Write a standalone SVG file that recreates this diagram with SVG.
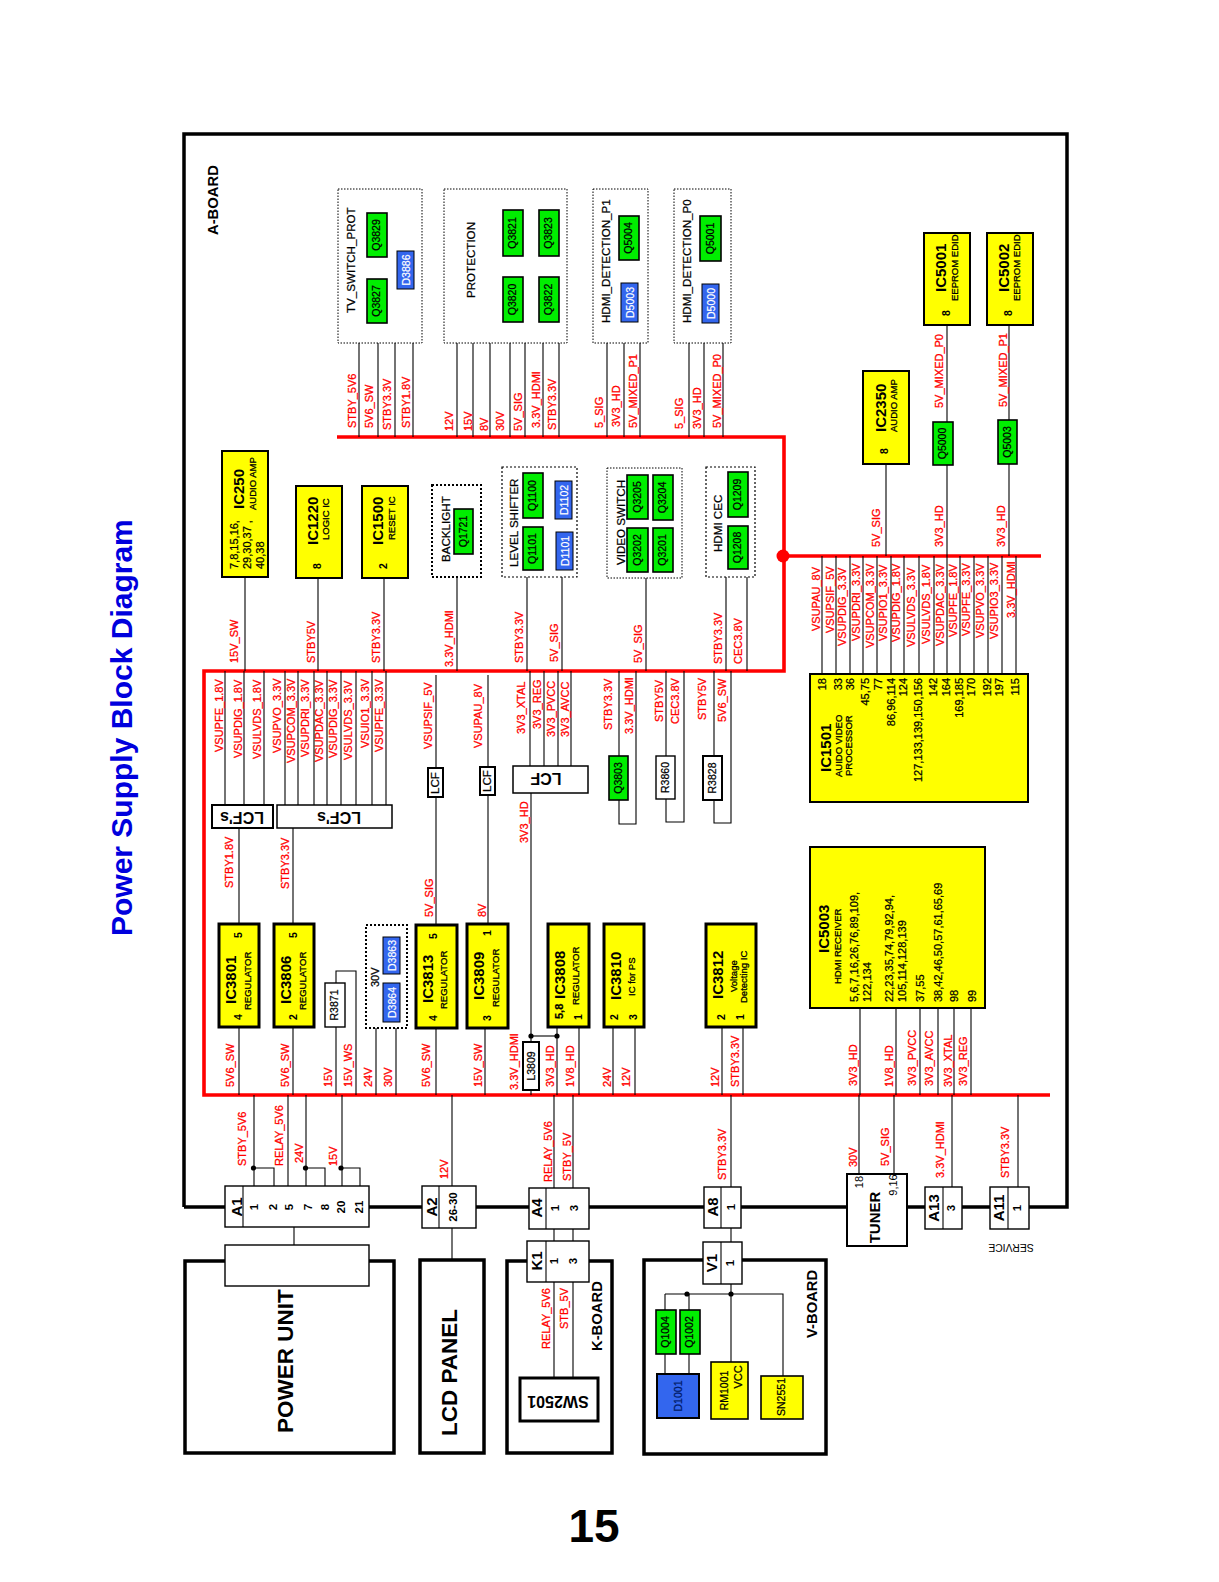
<svg xmlns="http://www.w3.org/2000/svg" width="1219" height="1582" viewBox="0 0 1219 1582">
<style>
text{font-family:"Liberation Sans",Arial,sans-serif;fill:#000}
.l{font-size:11px;fill:#f00;stroke:#f00;stroke-width:.3}
.m{text-anchor:middle}
.e{text-anchor:end}
.q{font-size:10.5px;text-anchor:middle;stroke:#000;stroke-width:.25}
.d{font-size:10.5px;text-anchor:middle;fill:#fff;stroke:#fff;stroke-width:.2}
.ic{font-size:15px;font-weight:bold}
.s{font-size:9.5px;stroke:#000;stroke-width:.3}
.b{font-size:11.6px;stroke:#000;stroke-width:.25}
.p{font-size:10.5px;font-weight:bold;text-anchor:middle}
.n{font-size:11px;stroke:#000;stroke-width:.25}
.c{font-size:15px;font-weight:bold;text-anchor:middle}
.w{font-size:11.5px;font-weight:bold;text-anchor:middle}
.big{font-size:22.5px;font-weight:bold}
.bd{font-size:14.8px;font-weight:bold}
.gr{fill:#00ee00;stroke:#000;stroke-width:1.6}
.bl{fill:#3366ee;stroke:#000;stroke-width:1}
.y{fill:#ff0;stroke:#000;stroke-width:2}
.y3{fill:#ff0;stroke:#000;stroke-width:3}
.dot{fill:#fff;stroke:#000;stroke-width:1;stroke-dasharray:1.5 1.5}
.dot2{fill:#fff;stroke:#000;stroke-width:2;stroke-dasharray:2 2}
.wb{fill:#fff;stroke:#000;stroke-width:1.4}
.wb2{fill:#fff;stroke:#000;stroke-width:2}
.fr{fill:none;stroke:#000;stroke-width:3.5}
.w1{fill:none;stroke:#000;stroke-width:1.1}
.bus{fill:none;stroke:#f00;stroke-width:3.6}
</style>
<text transform="translate(131.500 936)rotate(-90)" style="font-size:30px;font-weight:bold;fill:#0000dd">Power Supply Block Diagram</text>
<text x="594" y="1542" class="m" style="font-size:46px;font-weight:bold">15</text>
<g id="a-board"><path class="fr" d="M184 1207V134H1067V1207H184"/><text class="bd" transform="translate(218 235)rotate(-90)">A-BOARD</text></g>
<g id="bus"><path class="bus" d="M337 437H784V671H204V1095H1050"/><path class="bus" d="M784 556H1041"/><circle cx="783" cy="556" r="6.5" fill="#f00"/></g>
<g id="power-unit"><rect class="fr" x="185" y="1261" width="209" height="192"/><text class="big" transform="translate(293 1433)rotate(-90)">POWER UNIT</text><rect class="wb" x="225" y="1245" width="144" height="41"/></g>
<g id="lcd-panel"><rect class="fr" x="420" y="1260" width="64" height="193"/><text class="big" transform="translate(457 1436)rotate(-90)">LCD PANEL</text></g>
<g id="k-board"><rect class="fr" x="507" y="1261" width="105" height="192"/><text class="bd" transform="translate(602 1351)rotate(-90)">K-BOARD</text></g>
<g id="v-board"><rect class="fr" x="644" y="1260" width="182" height="194"/><text class="bd" transform="translate(817 1338)rotate(-90)">V-BOARD</text></g>
<g id="connectors">
<path class="w1" d="M359 343V437"/><path class="w1" d="M378 343V437"/><path class="w1" d="M395 343V437"/><path class="w1" d="M413 343V437"/>
<path class="w1" d="M457 343V437"/><path class="w1" d="M473 343V437"/><path class="w1" d="M490 343V437"/><path class="w1" d="M510 343V437"/><path class="w1" d="M525 343V437"/><path class="w1" d="M543 343V437"/><path class="w1" d="M559 343V437"/>
<path class="w1" d="M607 343V437"/><path class="w1" d="M624 343V437"/><path class="w1" d="M640 343V437"/><path class="w1" d="M689 343V437"/><path class="w1" d="M704 343V437"/><path class="w1" d="M723 343V437"/>
<path class="w1" d="M886 464V556"/><path class="w1" d="M947 325V422"/><path class="w1" d="M947 465V556"/><path class="w1" d="M1009 325V420"/><path class="w1" d="M1009 464V556"/>
<path class="w1" d="M245 577V671"/><path class="w1" d="M318 578V671"/><path class="w1" d="M384 578V671"/><path class="w1" d="M457 577V671"/><path class="w1" d="M527 577V671"/><path class="w1" d="M562 577V671"/><path class="w1" d="M646 578V671"/><path class="w1" d="M726 577V671"/><path class="w1" d="M747 577V671"/>
<path class="w1" d="M822 556V674"/><path class="w1" d="M836 556V674"/><path class="w1" d="M850 556V674"/><path class="w1" d="M863 556V674"/><path class="w1" d="M877 556V674"/><path class="w1" d="M891 556V674"/><path class="w1" d="M904 556V674"/><path class="w1" d="M919 556V674"/><path class="w1" d="M934 556V674"/><path class="w1" d="M947 556V674"/><path class="w1" d="M960 556V674"/><path class="w1" d="M974 556V674"/><path class="w1" d="M988 556V674"/><path class="w1" d="M1002 556V674"/><path class="w1" d="M1016 556V674"/>
<path class="w1" d="M225 671V805"/><path class="w1" d="M244 671V805"/><path class="w1" d="M264 671V805"/><path class="w1" d="M285 671V805"/><path class="w1" d="M298 671V805"/><path class="w1" d="M314 671V805"/><path class="w1" d="M327 671V805"/><path class="w1" d="M341 671V805"/><path class="w1" d="M356 671V805"/><path class="w1" d="M372 671V805"/><path class="w1" d="M386 671V805"/>
<path class="w1" d="M239 828V924"/><path class="w1" d="M293 828V924"/>
<path class="w1" d="M436 675V925"/><path class="w1" d="M488 675V924"/>
<path class="w1" d="M530 671V766"/><path class="w1" d="M544 671V766"/><path class="w1" d="M558 671V766"/><path class="w1" d="M571 671V766"/>
<path class="w1" d="M531 793V1095"/><path class="w1" d="M557 1027V1095"/><path class="w1" d="M531 1036H557"/>
<circle cx="531" cy="1036" r="2.6"/><circle cx="557" cy="1036" r="2.6"/>
<path class="w1" d="M619 671V824H636V671"/><path class="w1" d="M666 671V822H684V671"/><path class="w1" d="M714 671V823H731V671"/>
<path class="w1" d="M239 1027V1095"/><path class="w1" d="M293 1027V1095"/><path class="w1" d="M336 1095V971H356V1095"/><path class="w1" d="M376 1028V1095"/><path class="w1" d="M396 1028V1095"/><path class="w1" d="M436 1028V1095"/><path class="w1" d="M485 1028V1095"/><path class="w1" d="M579 1027V1095"/><path class="w1" d="M613 1027V1095"/><path class="w1" d="M635 1027V1095"/><path class="w1" d="M722 1027V1095"/><path class="w1" d="M743 1027V1095"/>
<path class="w1" d="M860 1008V1095"/><path class="w1" d="M896 1008V1095"/><path class="w1" d="M920 1008V1095"/><path class="w1" d="M938 1008V1095"/><path class="w1" d="M954 1008V1095"/><path class="w1" d="M971 1008V1095"/>
<path class="w1" d="M254 1095V1187"/><path class="w1" d="M253 1168H274V1187"/><path class="w1" d="M288 1095V1187"/><path class="w1" d="M306 1095V1187"/><path class="w1" d="M306 1168H325V1187"/><path class="w1" d="M342 1095V1187"/><path class="w1" d="M342 1168H360V1187"/>
<circle cx="253.500" cy="1168" r="2.6"/><circle cx="305.500" cy="1168" r="2.6"/><circle cx="341" cy="1168" r="2.6"/>
<path class="w1" d="M452 1095V1260"/><path class="w1" d="M554 1095V1378"/><path class="w1" d="M573 1095V1378"/><path class="w1" d="M731 1095V1362"/><path class="w1" d="M859 1095V1174"/><path class="w1" d="M894 1095V1174"/><path class="w1" d="M952 1095V1187"/><path class="w1" d="M1018 1095V1187"/>
<path class="w1" d="M294 1227V1245"/>
<path class="w1" d="M665 1294H783V1376"/><path class="w1" d="M665 1294V1374"/><path class="w1" d="M689 1294V1374"/>
<circle cx="687" cy="1294" r="2.6"/><circle cx="731" cy="1294" r="2.6"/>
</g>
<g id="tv-switch-prot"><rect class="dot" x="338" y="189" width="84" height="154"/><text class="b" transform="translate(355 313)rotate(-90)">TV_SWITCH_PROT</text><rect class="gr" x="367" y="279" width="20" height="44"/><text class="q" transform="translate(380 301)rotate(-90)">Q3827</text><rect class="gr" x="367" y="213" width="20" height="44"/><text class="q" transform="translate(380 235)rotate(-90)">Q3829</text><rect class="bl" x="397" y="251" width="17" height="38"/><text class="d" transform="translate(410 270)rotate(-90)">D3886</text></g>
<g id="protection"><rect class="dot" x="444" y="189" width="123" height="154"/><text class="b" transform="translate(475 298)rotate(-90)">PROTECTION</text><rect class="gr" x="503" y="277" width="20" height="45"/><text class="q" transform="translate(516 299.500)rotate(-90)">Q3820</text><rect class="gr" x="503" y="210" width="20" height="46"/><text class="q" transform="translate(516 233)rotate(-90)">Q3821</text><rect class="gr" x="539" y="277" width="20" height="45"/><text class="q" transform="translate(552 299.500)rotate(-90)">Q3822</text><rect class="gr" x="539" y="210" width="20" height="46"/><text class="q" transform="translate(552 233)rotate(-90)">Q3823</text></g>
<g id="hdmi-detection-p1"><rect class="dot" x="593" y="189" width="55" height="154"/><text class="b" transform="translate(610 323)rotate(-90)">HDMI_DETECTION_P1</text><rect class="gr" x="619" y="216" width="20" height="44"/><text class="q" transform="translate(632 238)rotate(-90)">Q5004</text><rect class="bl" x="621" y="283" width="17" height="39"/><text class="d" transform="translate(634 302.500)rotate(-90)">D5003</text></g>
<g id="hdmi-detection-p0"><rect class="dot" x="674" y="189" width="57" height="154"/><text class="b" transform="translate(691 323)rotate(-90)">HDMI_DETECTION_P0</text><rect class="gr" x="700" y="216" width="21" height="45"/><text class="q" transform="translate(714 238.500)rotate(-90)">Q5001</text><rect class="bl" x="702" y="284" width="17" height="39"/><text class="d" transform="translate(715 303.500)rotate(-90)">D5000</text></g>
<g id="ic5001"><rect class="y" x="924" y="233" width="46" height="92"/><text class="ic" transform="translate(946 292)rotate(-90)">IC5001</text><text class="s" transform="translate(958 301)rotate(-90)">EEPROM EDID</text><text class="p" transform="translate(950 313)rotate(-90)">8</text></g>
<g id="ic5002"><rect class="y" x="987" y="233" width="46" height="92"/><text class="ic" transform="translate(1009 292)rotate(-90)">IC5002</text><text class="s" transform="translate(1020 301)rotate(-90)">EEPROM EDID</text><text class="p" transform="translate(1012 313)rotate(-90)">8</text></g>
<g id="ic2350"><rect class="y" x="863" y="371" width="46" height="93"/><text class="ic" transform="translate(886 432)rotate(-90)">IC2350</text><text class="s" transform="translate(897 432)rotate(-90)">AUDIO AMP</text><text class="p" transform="translate(888 451)rotate(-90)">8</text></g>
<g id="q5000"><rect class="gr" x="933" y="422" width="20" height="43"/><text class="q" transform="translate(946 443.500)rotate(-90)">Q5000</text></g>
<g id="q5003"><rect class="gr" x="998" y="420" width="19" height="44"/><text class="q" transform="translate(1011 442)rotate(-90)">Q5003</text></g>
<g id="ic250"><rect class="y" x="222" y="451" width="46" height="126"/><text class="ic" transform="translate(244 509)rotate(-90)">IC250</text><text class="s" transform="translate(256 510)rotate(-90)">AUDIO AMP</text><text class="n" transform="translate(238 569)rotate(-90)">7,8,15,16,</text><text class="n" transform="translate(251 569)rotate(-90)">29,30,37 ,</text><text class="n" transform="translate(264 569)rotate(-90)">40,38</text></g>
<g id="ic1220"><rect class="y" x="296" y="486" width="46" height="92"/><text class="ic" transform="translate(318 545)rotate(-90)">IC1220</text><text class="s" transform="translate(329 540)rotate(-90)">LOGIC IC</text><text class="p" transform="translate(321 566)rotate(-90)">8</text></g>
<g id="ic1500"><rect class="y" x="362" y="486" width="46" height="92"/><text class="ic" transform="translate(383 545)rotate(-90)">IC1500</text><text class="s" transform="translate(395 540)rotate(-90)">RESET IC</text><text class="p" transform="translate(387 566)rotate(-90)">2</text></g>
<g id="backlight"><rect class="dot2" x="432" y="485" width="49" height="92"/><text class="b" transform="translate(450 562)rotate(-90)">BACKLIGHT</text><rect class="gr" x="454" y="509" width="19" height="45"/><text class="q" transform="translate(467 531.500)rotate(-90)">Q1721</text></g>
<g id="level-shifter"><rect class="dot2" x="502" y="467" width="75" height="110" style="stroke-width:1.2"/><text class="b" transform="translate(518 567)rotate(-90)">LEVEL SHIFTER</text><rect class="gr" x="523" y="473" width="20" height="45"/><text class="q" transform="translate(536 495.500)rotate(-90)">Q1100</text><rect class="gr" x="523" y="527" width="20" height="43"/><text class="q" transform="translate(536 548.500)rotate(-90)">Q1101</text><rect class="bl" x="555" y="481" width="17" height="38"/><text class="d" transform="translate(568 500)rotate(-90)">D1102</text><rect class="bl" x="556" y="532" width="17" height="38"/><text class="d" transform="translate(569 551)rotate(-90)">D1101</text></g>
<g id="video-switch"><rect class="dot" x="607" y="468" width="75" height="110"/><text class="b" transform="translate(625 565)rotate(-90)">VIDEO SWITCH</text><rect class="gr" x="627" y="475" width="21" height="44"/><text class="q" transform="translate(641 497)rotate(-90)">Q3205</text><rect class="gr" x="653" y="475" width="20" height="45"/><text class="q" transform="translate(666 497.500)rotate(-90)">Q3204</text><rect class="gr" x="627" y="528" width="21" height="44"/><text class="q" transform="translate(641 550)rotate(-90)">Q3202</text><rect class="gr" x="653" y="528" width="20" height="44"/><text class="q" transform="translate(666 550)rotate(-90)">Q3201</text></g>
<g id="hdmi-cec"><rect class="dot2" x="706" y="467" width="49" height="110" style="stroke-width:1.2"/><text class="b" transform="translate(722 552)rotate(-90)">HDMI CEC</text><rect class="gr" x="728" y="472" width="20" height="45"/><text class="q" transform="translate(741 494.500)rotate(-90)">Q1209</text><rect class="gr" x="728" y="526" width="20" height="43"/><text class="q" transform="translate(741 547.500)rotate(-90)">Q1208</text></g>
<g id="ic1501"><rect class="y" x="810" y="674" width="218" height="128"/><text class="ic" transform="translate(831 772)rotate(-90)">IC1501</text><text class="s" transform="translate(842 777)rotate(-90)">AUIDO VIDEO</text><text class="s" transform="translate(852 776)rotate(-90)">PROCESSOR</text>
<text class="n e" transform="translate(826 678)rotate(-90)">18</text><text class="n e" transform="translate(842 678)rotate(-90)">33</text><text class="n e" transform="translate(854 678)rotate(-90)">36</text><text class="n e" transform="translate(869 678)rotate(-90)">45,75</text><text class="n e" transform="translate(882 678)rotate(-90)">77</text><text class="n e" transform="translate(895 678)rotate(-90)">86,96,114</text><text class="n e" transform="translate(907 678)rotate(-90)">124</text><text class="n e" transform="translate(922 678)rotate(-90)">127,133,139,150,156</text><text class="n e" transform="translate(937 678)rotate(-90)">142</text><text class="n e" transform="translate(950 678)rotate(-90)">164</text><text class="n e" transform="translate(963 678)rotate(-90)">169,185</text><text class="n e" transform="translate(975 678)rotate(-90)">170</text><text class="n e" transform="translate(991 678)rotate(-90)">192</text><text class="n e" transform="translate(1003 678)rotate(-90)">197</text><text class="n e" transform="translate(1019 678)rotate(-90)">115</text></g>
<g id="ic5003"><rect class="y" x="810" y="847" width="175" height="161"/><text class="ic" transform="translate(829 953)rotate(-90)">IC5003</text><text class="s" transform="translate(841 984)rotate(-90)">HDMI RECEIVER</text>
<text class="n" transform="translate(858 1002)rotate(-90)">5,6,7,16,26,76,89,109,</text><text class="n" transform="translate(871 1002)rotate(-90)">122,134</text><text class="n" transform="translate(893 1002)rotate(-90)">22,23,35,74,79,92,94,</text><text class="n" transform="translate(906 1002)rotate(-90)">105,114,128,139</text><text class="n" transform="translate(924 1002)rotate(-90)">37,55</text><text class="n" transform="translate(942 1002)rotate(-90)">38,42,46,50,57,61,65,69</text><text class="n" transform="translate(958 1002)rotate(-90)">98</text><text class="n" transform="translate(976 1002)rotate(-90)">99</text></g>
<g id="lcf-1"><rect class="wb2" x="212" y="805" width="61" height="23"/><text class="m" transform="translate(242 812)rotate(180)" style="font-size:16px;font-weight:bold">LCF's</text></g>
<g id="lcf-2"><rect class="wb2" x="277" y="805" width="115" height="23" style="stroke-width:1.5"/><text class="m" transform="translate(339 812)rotate(180)" style="font-size:16px;font-weight:bold">LCF's</text></g>
<g id="lcf-3"><rect class="wb2" x="428" y="768" width="15" height="29"/><text class="b m" transform="translate(439 783)rotate(-90)">LCF</text></g>
<g id="lcf-4"><rect class="wb2" x="480" y="767" width="15" height="28"/><text class="b m" transform="translate(491 781)rotate(-90)">LCF</text></g>
<g id="lcf-5"><rect class="wb2" x="513" y="766" width="75" height="27" style="stroke-width:1.5"/><text class="m" transform="translate(546 773)rotate(180)" style="font-size:16px;font-weight:bold">LCF</text></g>
<g id="q3803"><rect class="gr" x="609" y="756" width="19" height="44"/><text class="q" transform="translate(622 778)rotate(-90)">Q3803</text></g>
<g id="r3860"><rect class="wb" x="656" y="756" width="19" height="43"/><text class="q" transform="translate(669 777.500)rotate(-90)">R3860</text></g>
<g id="r3828"><rect class="wb2" x="703" y="756" width="19" height="44"/><text class="q" transform="translate(716 778)rotate(-90)">R3828</text></g>
<g id="ic3801"><rect class="y3" x="219" y="924" width="40" height="103"/><text class="ic" transform="translate(236 1004)rotate(-90)">IC3801</text><text class="s" transform="translate(251 1010)rotate(-90)">REGULATOR</text><text class="p" transform="translate(242 1017)rotate(-90)">4</text><text class="p" transform="translate(242 935)rotate(-90)">5</text></g>
<g id="ic3806"><rect class="y3" x="274" y="924" width="40" height="103"/><text class="ic" transform="translate(291 1004)rotate(-90)">IC3806</text><text class="s" transform="translate(306 1010)rotate(-90)">REGULATOR</text><text class="p" transform="translate(297 1017)rotate(-90)">2</text><text class="p" transform="translate(297 935)rotate(-90)">5</text></g>
<g id="r3871"><rect class="wb" x="325" y="983" width="20" height="44"/><text class="q" transform="translate(338 1005)rotate(-90)">R3871</text></g>
<g id="d-30v"><rect class="dot2" x="366" y="925" width="41" height="103"/><text class="n" transform="translate(379 987)rotate(-90)">30V</text><rect class="bl" x="383" y="937" width="17" height="37"/><text class="d" transform="translate(396 955.500)rotate(-90)">D3863</text><rect class="bl" x="383" y="983" width="17" height="39"/><text class="d" transform="translate(396 1002.500)rotate(-90)">D3864</text></g>
<g id="ic3813"><rect class="y3" x="416" y="925" width="41" height="103"/><text class="ic" transform="translate(433 1003)rotate(-90)">IC3813</text><text class="s" transform="translate(447 1009)rotate(-90)">REGULATOR</text><text class="p" transform="translate(437 1018)rotate(-90)">4</text><text class="p" transform="translate(437 936)rotate(-90)">5</text></g>
<g id="ic3809"><rect class="y3" x="467" y="924" width="41" height="104"/><text class="ic" transform="translate(484 1000)rotate(-90)">IC3809</text><text class="s" transform="translate(499 1007)rotate(-90)">REGULATOR</text><text class="p" transform="translate(491 1018)rotate(-90)">3</text><text class="p" transform="translate(491 933)rotate(-90)">1</text></g>
<g id="ic3808"><rect class="y3" x="548" y="924" width="41" height="103"/><text class="ic" transform="translate(565 999)rotate(-90)">IC3808</text><text class="n" transform="translate(563 1019)rotate(-90)" style="font-weight:bold">5,8</text><text class="s" transform="translate(579 1005)rotate(-90)">REGULATOR</text><text class="p" transform="translate(582 1017)rotate(-90)">1</text></g>
<g id="ic3810"><rect class="y3" x="604" y="924" width="40" height="103"/><text class="ic" transform="translate(621 1000)rotate(-90)">IC3810</text><text class="s" transform="translate(635 996)rotate(-90)">IC for PS</text><text class="p" transform="translate(618 1017)rotate(-90)">2</text><text class="p" transform="translate(637 1017)rotate(-90)">3</text></g>
<g id="ic3812"><rect class="y3" x="706" y="924" width="50" height="103"/><text class="ic" transform="translate(723 999)rotate(-90)">IC3812</text><text class="s" transform="translate(737 992)rotate(-90)">Voltage</text><text class="s" transform="translate(747 1003)rotate(-90)">Detecting IC</text><text class="p" transform="translate(725 1017)rotate(-90)">2</text><text class="p" transform="translate(744 1017)rotate(-90)">1</text></g>
<g id="l3809"><rect class="wb2" x="523" y="1042" width="16" height="48"/><text class="q" transform="translate(535 1066)rotate(-90)">L3809</text></g>
<g id="a1"><rect class="wb" x="225" y="1186" width="144" height="41"/><path class="w1" d="M243 1186V1227"/><text class="c" transform="translate(242 1207)rotate(-90)">A1</text><text class="w" transform="translate(258 1207)rotate(-90)">1</text><text class="w" transform="translate(277 1207)rotate(-90)">2</text><text class="w" transform="translate(293 1207)rotate(-90)">5</text><text class="w" transform="translate(312 1207)rotate(-90)">7</text><text class="w" transform="translate(329 1207)rotate(-90)">8</text><text class="w" transform="translate(345 1207)rotate(-90)">20</text><text class="w" transform="translate(363 1207)rotate(-90)">21</text></g>
<g id="a2"><rect class="wb" x="422" y="1186" width="54" height="42"/><path class="w1" d="M439 1186V1228"/><text class="c" transform="translate(437 1207)rotate(-90)">A2</text><text class="w" transform="translate(457 1207)rotate(-90)">26-30</text></g>
<g id="a4"><rect class="wb" x="529" y="1188" width="60" height="41"/><path class="w1" d="M546 1188V1229"/><text class="c" transform="translate(542 1208)rotate(-90)">A4</text><text class="w" transform="translate(559 1208)rotate(-90)">1</text><text class="w" transform="translate(578 1208)rotate(-90)">3</text></g>
<g id="k1"><rect class="wb" x="527" y="1241" width="62" height="41"/><path class="w1" d="M546 1241V1282"/><text class="c" transform="translate(542 1261)rotate(-90)">K1</text><text class="w" transform="translate(558 1261)rotate(-90)">1</text><text class="w" transform="translate(577 1261)rotate(-90)">3</text></g>
<g id="sw2501"><rect class="wb2" x="520" y="1378" width="78" height="43" style="stroke-width:3"/><text class="m" transform="translate(558 1396)rotate(180)" style="font-size:16px;font-weight:bold">SW2501</text></g>
<g id="a8"><rect class="wb" x="704" y="1187" width="37" height="41"/><path class="w1" d="M721 1187V1228"/><text class="c" transform="translate(718 1207)rotate(-90)">A8</text><text class="w" transform="translate(735 1207)rotate(-90)">1</text></g>
<g id="v1"><rect class="wb" x="703" y="1242" width="39" height="42"/><path class="w1" d="M721 1242V1284"/><text class="c" transform="translate(717 1263)rotate(-90)">V1</text><text class="w" transform="translate(734 1263)rotate(-90)">1</text></g>
<g id="q1004"><rect class="gr" x="656" y="1310" width="20" height="44"/><text class="q" transform="translate(669 1332)rotate(-90)">Q1004</text></g>
<g id="q1002"><rect class="gr" x="680" y="1310" width="20" height="44"/><text class="q" transform="translate(693 1332)rotate(-90)">Q1002</text></g>
<g id="d1001"><rect class="bl" x="657" y="1374" width="42" height="44" style="stroke-width:2"/><text class="q" transform="translate(682 1396)rotate(-90)" style="fill:#001a66;stroke:#001a66">D1001</text></g>
<g id="rm1001"><rect class="y" x="711" y="1362" width="37" height="57" style="stroke-width:1.6"/><text class="q" transform="translate(728 1390.500)rotate(-90)">RM1001</text><text class="q" transform="translate(742 1377)rotate(-90)" style="font-size:11px">VCC</text></g>
<g id="sn2551"><rect class="y" x="761" y="1376" width="42" height="43" style="stroke-width:1.6"/><text class="q" transform="translate(785 1397)rotate(-90)">SN2551</text></g>
<g id="tuner"><rect class="wb2" x="847" y="1174" width="60" height="72"/><text class="c" transform="translate(880 1217.500)rotate(-90)">TUNER</text><text class="w" transform="translate(863 1182)rotate(-90)" style="font-weight:normal;font-size:11px">18</text><text class="w" transform="translate(897 1185)rotate(-90)" style="font-weight:normal;font-size:11px">9,16</text></g>
<g id="a13"><rect class="wb" x="925" y="1187" width="37" height="42"/><path class="w1" d="M943 1187V1229"/><text class="c" transform="translate(939 1208)rotate(-90)">A13</text><text class="w" transform="translate(955 1208)rotate(-90)">3</text></g>
<g id="a11"><rect class="wb" x="990" y="1187" width="39" height="42"/><path class="w1" d="M1008 1187V1229"/><text class="c" transform="translate(1004 1208)rotate(-90)">A11</text><text class="w" transform="translate(1021 1208)rotate(-90)">1</text><text class="m" transform="translate(1011 1244)rotate(180)" style="font-size:10.4px">SERVICE</text></g>
<g id="labels">
<text class="l" transform="translate(356 428)rotate(-90)">STBY_5V6</text><text class="l" transform="translate(373 428)rotate(-90)">5V6_SW</text><text class="l" transform="translate(391 430)rotate(-90)">STBY3.3V</text><text class="l" transform="translate(410 428)rotate(-90)">STBY1.8V</text>
<text class="l" transform="translate(453 431)rotate(-90)">12V</text><text class="l" transform="translate(472 431)rotate(-90)">15V</text><text class="l" transform="translate(488 431)rotate(-90)">8V</text><text class="l" transform="translate(504 431)rotate(-90)">30V</text><text class="l" transform="translate(522 431)rotate(-90)">5V_SIG</text><text class="l" transform="translate(540 428)rotate(-90)">3.3V_HDMI</text><text class="l" transform="translate(556 430)rotate(-90)">STBY3.3V</text>
<text class="l" transform="translate(603 428)rotate(-90)">5_SIG</text><text class="l" transform="translate(620 427)rotate(-90)">3V3_HD</text><text class="l" transform="translate(637 428)rotate(-90)">5V_MIXED_P1</text><text class="l" transform="translate(683 429)rotate(-90)">5_SIG</text><text class="l" transform="translate(701 429)rotate(-90)">3V3_HD</text><text class="l" transform="translate(721 428)rotate(-90)">5V_MIXED_P0</text>
<text class="l" transform="translate(880 547)rotate(-90)">5V_SIG</text><text class="l" transform="translate(943 408)rotate(-90)">5V_MIXED_P0</text><text class="l" transform="translate(943 547)rotate(-90)">3V3_HD</text><text class="l" transform="translate(1007 407)rotate(-90)">5V_MIXED_P1</text><text class="l" transform="translate(1005 547)rotate(-90)">3V3_HD</text>
<text class="l" transform="translate(238 663)rotate(-90)">15V_SW</text><text class="l" transform="translate(315 663)rotate(-90)">STBY5V</text><text class="l" transform="translate(380 663)rotate(-90)">STBY3.3V</text><text class="l" transform="translate(453 667)rotate(-90)">3.3V_HDMI</text><text class="l" transform="translate(523 663)rotate(-90)">STBY3.3V</text><text class="l" transform="translate(558 662)rotate(-90)">5V_SIG</text><text class="l" transform="translate(642 663)rotate(-90)">5V_SIG</text><text class="l" transform="translate(722 664)rotate(-90)">STBY3.3V</text><text class="l" transform="translate(742 664)rotate(-90)">CEC3.8V</text>
<text class="l" transform="translate(820 631)rotate(-90)">VSUPAU_8V</text><text class="l" transform="translate(834 633)rotate(-90)">VSUPSIF_5V</text><text class="l" transform="translate(846 646)rotate(-90)">VSUPDIG_3.3V</text><text class="l" transform="translate(860 641)rotate(-90)">VSUPDRI_3.3V</text><text class="l" transform="translate(874 648)rotate(-90)">VSUPCOM_3.3V</text><text class="l" transform="translate(887 641)rotate(-90)">VSUPIO1_3.3V</text><text class="l" transform="translate(900 642)rotate(-90)">VSUPDIG_1.8V</text><text class="l" transform="translate(915 647)rotate(-90)">VSULVDS_3.3V</text><text class="l" transform="translate(930 644)rotate(-90)">VSULVDS_1.8V</text><text class="l" transform="translate(944 646)rotate(-90)">VSUPDAC_3.3V</text><text class="l" transform="translate(957 637)rotate(-90)">VSUPFE_1.8V</text><text class="l" transform="translate(970 636)rotate(-90)">VSUPFE_3.3V</text><text class="l" transform="translate(984 638)rotate(-90)">VSUPVO_3.3V</text><text class="l" transform="translate(998 639)rotate(-90)">VSUPIO3_3.3V</text><text class="l" transform="translate(1015 618)rotate(-90)">3.3V_HDMI</text>
<text class="l" transform="translate(223 752)rotate(-90)">VSUPFE_1.8V</text><text class="l" transform="translate(242 758)rotate(-90)">VSUPDIG_1.8V</text><text class="l" transform="translate(261 759)rotate(-90)">VSULVDS_1.8V</text><text class="l" transform="translate(281 753)rotate(-90)">VSUPVO_3.3V</text><text class="l" transform="translate(295 763)rotate(-90)">VSUPCOM_3.3V</text><text class="l" transform="translate(309 757)rotate(-90)">VSUPDRI_3.3V</text><text class="l" transform="translate(323 762)rotate(-90)">VSUPDAC_3.3V</text><text class="l" transform="translate(337 758)rotate(-90)">VSUPDIG_3.3V</text><text class="l" transform="translate(352 760)rotate(-90)">VSULVDS_3.3V</text><text class="l" transform="translate(369 748)rotate(-90)">VSUIO1_3.3V</text><text class="l" transform="translate(383 752)rotate(-90)">VSUPFE_3.3V</text><text class="l" transform="translate(432 749)rotate(-90)">VSUPSIF_5V</text><text class="l" transform="translate(482 748)rotate(-90)">VSUPAU_8V</text>
<text class="l" transform="translate(525 734)rotate(-90)">3V3_XTAL</text><text class="l" transform="translate(541 729)rotate(-90)">3V3_REG</text><text class="l" transform="translate(555 737)rotate(-90)">3V3_PVCC</text><text class="l" transform="translate(569 737)rotate(-90)">3V3_AVCC</text><text class="l" transform="translate(528 843)rotate(-90)">3V3_HD</text>
<text class="l" transform="translate(612 730)rotate(-90)">STBY3.3V</text><text class="l" transform="translate(633 734)rotate(-90)">3.3V_HDMI</text><text class="l" transform="translate(663 722)rotate(-90)">STBY5V</text><text class="l" transform="translate(679 724)rotate(-90)">CEC3.8V</text><text class="l" transform="translate(706 720)rotate(-90)">STBY5V</text><text class="l" transform="translate(726 722)rotate(-90)">5V6_SW</text>
<text class="l" transform="translate(233 888)rotate(-90)">STBY1.8V</text><text class="l" transform="translate(289 889)rotate(-90)">STBY3.3V</text><text class="l" transform="translate(433 917)rotate(-90)">5V_SIG</text><text class="l" transform="translate(486 917)rotate(-90)">8V</text>
<text class="l" transform="translate(234 1087)rotate(-90)">5V6_SW</text><text class="l" transform="translate(289 1087)rotate(-90)">5V6_SW</text><text class="l" transform="translate(332 1087)rotate(-90)">15V</text><text class="l" transform="translate(352 1087)rotate(-90)">15V_WS</text><text class="l" transform="translate(372 1087)rotate(-90)">24V</text><text class="l" transform="translate(392 1087)rotate(-90)">30V</text><text class="l" transform="translate(430 1087)rotate(-90)">5V6_SW</text><text class="l" transform="translate(482 1087)rotate(-90)">15V_SW</text><text class="l" transform="translate(518 1090)rotate(-90)">3.3V_HDMI</text><text class="l" transform="translate(554 1087)rotate(-90)">3V3_HD</text><text class="l" transform="translate(574 1087)rotate(-90)">1V8_HD</text><text class="l" transform="translate(611 1087)rotate(-90)">24V</text><text class="l" transform="translate(630 1087)rotate(-90)">12V</text><text class="l" transform="translate(719 1087)rotate(-90)">12V</text><text class="l" transform="translate(739 1087)rotate(-90)">STBY3.3V</text>
<text class="l" transform="translate(857 1086)rotate(-90)">3V3_HD</text><text class="l" transform="translate(893 1087)rotate(-90)">1V8_HD</text><text class="l" transform="translate(916 1086)rotate(-90)">3V3_PVCC</text><text class="l" transform="translate(933 1086)rotate(-90)">3V3_AVCC</text><text class="l" transform="translate(952 1087)rotate(-90)">3V3_XTAL</text><text class="l" transform="translate(967 1086)rotate(-90)">3V3_REG</text>
<text class="l" transform="translate(246 1166)rotate(-90)">STBY_5V6</text><text class="l" transform="translate(283 1166)rotate(-90)">RELAY_5V6</text><text class="l" transform="translate(303 1163)rotate(-90)">24V</text><text class="l" transform="translate(337 1166)rotate(-90)">15V</text><text class="l" transform="translate(448 1179)rotate(-90)">12V</text><text class="l" transform="translate(552 1182)rotate(-90)">RELAY_5V6</text><text class="l" transform="translate(571 1181)rotate(-90)">STBY_5V</text><text class="l" transform="translate(726 1180)rotate(-90)">STBY3.3V</text><text class="l" transform="translate(857 1167)rotate(-90)">30V</text><text class="l" transform="translate(889 1166)rotate(-90)">5V_SIG</text><text class="l" transform="translate(944 1178)rotate(-90)">3.3V_HDMI</text><text class="l" transform="translate(1009 1178)rotate(-90)">STBY3.3V</text>
<text class="l" transform="translate(550 1349)rotate(-90)">RELAY_5V6</text><text class="l" transform="translate(568 1329)rotate(-90)">STB_5V</text>
</g>
</svg>
